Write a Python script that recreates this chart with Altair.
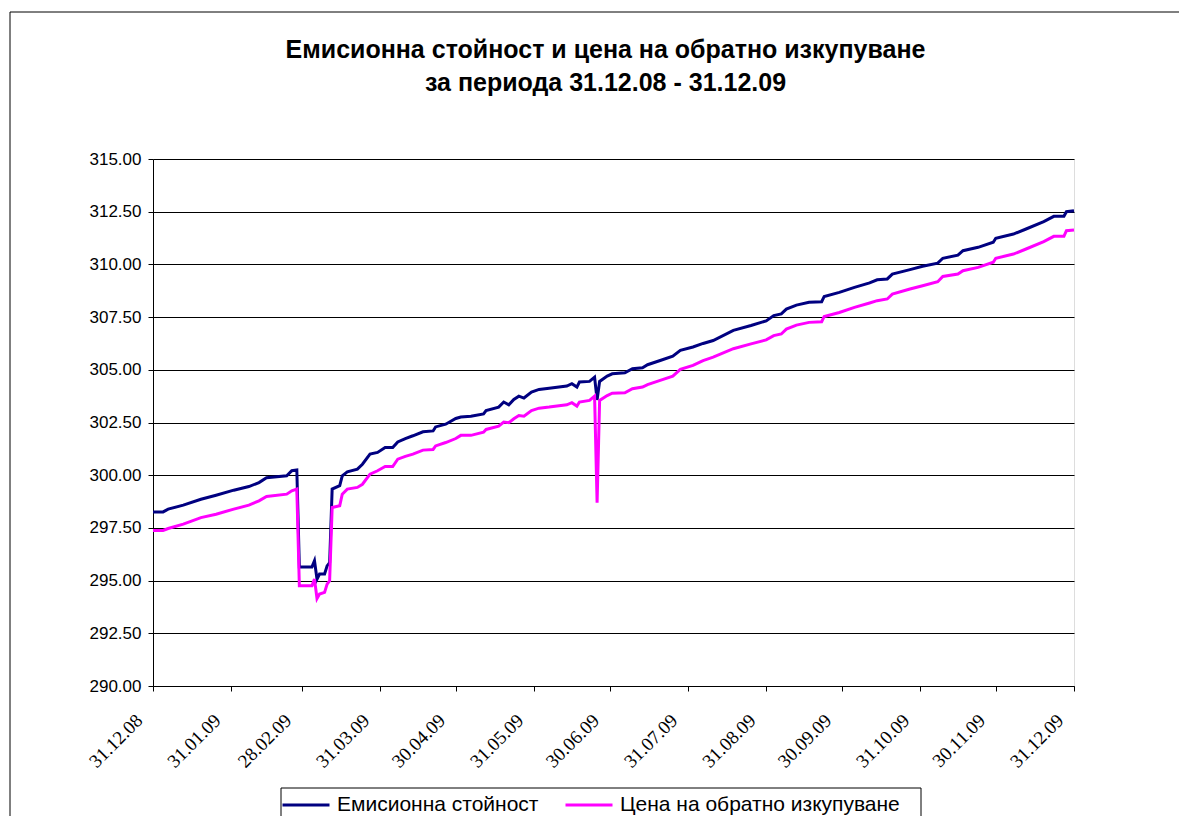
import altair as alt
import pandas as pd

# ---- data ----
dates = [
    "2008-12-31", "2009-01-04", "2009-01-06", "2009-01-12", "2009-01-19", "2009-01-25",
    "2009-02-01", "2009-02-07", "2009-02-11", "2009-02-14", "2009-02-22", "2009-02-24",
    "2009-02-26", "2009-02-27", "2009-03-04", "2009-03-05", "2009-03-06", "2009-03-07",
    "2009-03-09", "2009-03-10", "2009-03-11", "2009-03-12", "2009-03-15", "2009-03-16",
    "2009-03-18", "2009-03-22", "2009-03-24", "2009-03-27", "2009-03-30", "2009-04-02",
    "2009-04-05", "2009-04-07", "2009-04-10", "2009-04-13", "2009-04-17", "2009-04-21",
    "2009-04-22", "2009-04-26", "2009-04-30", "2009-05-02", "2009-05-06", "2009-05-11",
    "2009-05-12", "2009-05-17", "2009-05-19", "2009-05-21", "2009-05-23", "2009-05-25",
    "2009-05-27", "2009-05-30", "2009-06-02", "2009-06-06", "2009-06-13", "2009-06-15",
    "2009-06-17", "2009-06-18", "2009-06-22", "2009-06-24", "2009-06-25", "2009-06-26",
    "2009-06-29", "2009-07-01", "2009-07-06", "2009-07-09", "2009-07-13", "2009-07-15",
    "2009-07-20", "2009-07-25", "2009-07-28", "2009-08-02", "2009-08-06", "2009-08-10",
    "2009-08-18", "2009-08-25", "2009-08-31", "2009-09-03", "2009-09-06", "2009-09-08",
    "2009-09-12", "2009-09-17", "2009-09-22", "2009-09-23", "2009-09-29", "2009-10-05",
    "2009-10-11", "2009-10-14", "2009-10-18", "2009-10-20", "2009-10-27", "2009-11-01",
    "2009-11-07", "2009-11-09", "2009-11-15", "2009-11-17", "2009-11-23", "2009-11-29",
    "2009-11-30", "2009-12-07", "2009-12-12", "2009-12-19", "2009-12-23", "2009-12-27",
    "2009-12-28", "2009-12-31",
]

emission = [
    298.26, 298.26, 298.39, 298.58, 298.86, 299.05,
    299.29, 299.46, 299.65, 299.88, 299.97, 300.21,
    300.25, 295.65, 295.65, 295.94, 295.07, 295.31,
    295.31, 295.70, 295.85, 299.34, 299.50, 299.97,
    300.16, 300.29, 300.52, 301.00, 301.08, 301.31,
    301.31, 301.58, 301.74, 301.87, 302.06, 302.10,
    302.29, 302.42, 302.69, 302.76, 302.80, 302.91,
    303.07, 303.23, 303.47, 303.34, 303.59, 303.75,
    303.66, 303.94, 304.07, 304.13, 304.23, 304.34,
    304.18, 304.42, 304.45, 304.65, 303.57, 304.45,
    304.70, 304.81, 304.86, 305.05, 305.10, 305.24,
    305.44, 305.65, 305.92, 306.08, 306.25, 306.39,
    306.87, 307.10, 307.32, 307.57, 307.65, 307.88,
    308.07, 308.20, 308.23, 308.48, 308.67, 308.91,
    309.12, 309.27, 309.31, 309.54, 309.75, 309.91,
    310.06, 310.29, 310.44, 310.65, 310.81, 311.05,
    311.24, 311.44, 311.68, 312.03, 312.28, 312.28,
    312.50, 312.55,
]

redemption = [
    297.38, 297.38, 297.47, 297.68, 297.99, 298.15,
    298.39, 298.58, 298.78, 298.99, 299.10, 299.26,
    299.34, 294.75, 294.75, 295.07, 294.15, 294.36,
    294.44, 294.83, 294.99, 298.47, 298.55, 299.10,
    299.34, 299.42, 299.57, 300.05, 300.21, 300.41,
    300.41, 300.76, 300.89, 301.00, 301.19, 301.22,
    301.39, 301.55, 301.74, 301.89, 301.89, 302.04,
    302.17, 302.33, 302.52, 302.49, 302.68, 302.83,
    302.80, 303.07, 303.18, 303.23, 303.34, 303.44,
    303.28, 303.47, 303.55, 303.75, 298.70, 303.55,
    303.78, 303.89, 303.91, 304.10, 304.18, 304.30,
    304.50, 304.70, 305.02, 305.21, 305.44, 305.60,
    306.00, 306.23, 306.42, 306.62, 306.70, 306.93,
    307.12, 307.25, 307.28, 307.53, 307.72, 307.96,
    308.17, 308.28, 308.36, 308.59, 308.83, 308.99,
    309.18, 309.43, 309.54, 309.70, 309.86, 310.10,
    310.29, 310.49, 310.73, 311.08, 311.33, 311.33,
    311.60, 311.63,
]

series_names = ["Емисионна стойност", "Цена на обратно изкупуване"]
series_colors = ["#000080", "#FF00FF"]

y_ticks = [290.0, 292.5, 295.0, 297.5, 300.0, 302.5, 305.0, 307.5, 310.0, 312.5, 315.0]
x_ticks = [
    (2008, 12, 31), (2009, 1, 31), (2009, 2, 28), (2009, 3, 31), (2009, 4, 30),
    (2009, 5, 31), (2009, 6, 30), (2009, 7, 31), (2009, 8, 31), (2009, 9, 30),
    (2009, 10, 31), (2009, 11, 30), (2009, 12, 31),
]

title_lines = [
    "Емисионна стойност и цена на обратно изкупуване",
    "за периода 31.12.08 - 31.12.09",
]

# ---- build table ----
df = pd.DataFrame({
    "date": dates * 2,
    "value": emission + redemption,
    "series": [series_names[0]] * len(dates) + [series_names[1]] * len(dates),
    "order": [0] * len(dates) + [1] * len(dates),
})

def dt(t):
    return alt.DateTime(year=t[0], month=t[1], date=t[2], utc=True)

x_enc = alt.X(
    "date:T",
    scale=alt.Scale(type="utc", domain=[dt(x_ticks[0]), dt(x_ticks[-1])]),
    axis=alt.Axis(
        values=[dt(t) for t in x_ticks],
        labelExpr="utcFormat(datum.value, '%d.%m.%y')",
        title=None,
        grid=False,
        domainColor="black",
        tickColor="black",
        tickSize=5,
        labelAngle=315,
        labelAlign="right",
        labelBaseline="middle",
        labelPadding=26,
        labelOffset=-14,
        labelFont="Liberation Serif",
        labelFontSize=19,
        labelColor="black",
        labelOverlap=False,
        labelBound=False,
        labelFlush=False,
    ),
)

y_enc = alt.Y(
    "value:Q",
    scale=alt.Scale(domain=[290, 315], nice=False, zero=False),
    axis=alt.Axis(
        values=y_ticks,
        format=".2f",
        title=None,
        grid=True,
        gridColor="black",
        gridWidth=1,
        gridOpacity=1,
        domainColor="black",
        tickColor="black",
        tickSize=5,
        labelPadding=7,
        labelFont="Liberation Sans",
        labelFontSize=17,
        labelColor="black",
    ),
)

lines = alt.Chart(df).mark_line(strokeWidth=3, clip=False).encode(
    x=x_enc,
    y=y_enc,
    color=alt.Color(
        "series:N",
        scale=alt.Scale(domain=series_names, range=series_colors),
        legend=alt.Legend(
            title=None,
            orient="none",
            legendX=128,
            legendY=621,
            direction="horizontal",
            symbolType="stroke",
            symbolSize=2209,
            symbolStrokeWidth=3,
            labelFont="Liberation Sans",
            labelFontSize=21,
            labelColor="black",
            labelLimit=0,
            labelOffset=6,
            columnPadding=20,
            padding=0,
        ),
    ),
    order="order:Q",
)

deco_df = pd.DataFrame({"frame": [0]})
# outer chart-area border (decoration): top and left edges
frame_top = alt.Chart(deco_df).mark_rule(stroke="black", strokeWidth=1).encode(
    x=alt.value(-143), x2=alt.value(1300), y=alt.value(-147)
)
frame_left = alt.Chart(deco_df).mark_rule(stroke="black", strokeWidth=1).encode(
    x=alt.value(-143), y=alt.value(-147), y2=alt.value(900)
)
# legend box outline (decoration)
legend_box = alt.Chart(deco_df).mark_rect(filled=False, stroke="black", strokeWidth=1).encode(
    x=alt.value(128), y=alt.value(629), x2=alt.value(768), y2=alt.value(720)
)

chart = alt.layer(frame_top, frame_left, legend_box, lines).properties(
    width=921,
    height=527,
    padding={"left": 145, "top": 151, "right": 105, "bottom": 130},
    autosize=alt.AutoSizeParams(type="none"),
    title=alt.TitleParams(
        text=title_lines,
        font="Liberation Sans",
        fontSize=25,
        fontWeight="bold",
        color="black",
        anchor="middle",
        baseline="top",
        lineHeight=33,
        offset=-84,
        dx=-8,
    ),
).configure_view(stroke="#808080", strokeWidth=1).configure(background="white")

chart.save("out.html", embed_options={"renderer": "svg", "actions": False})
